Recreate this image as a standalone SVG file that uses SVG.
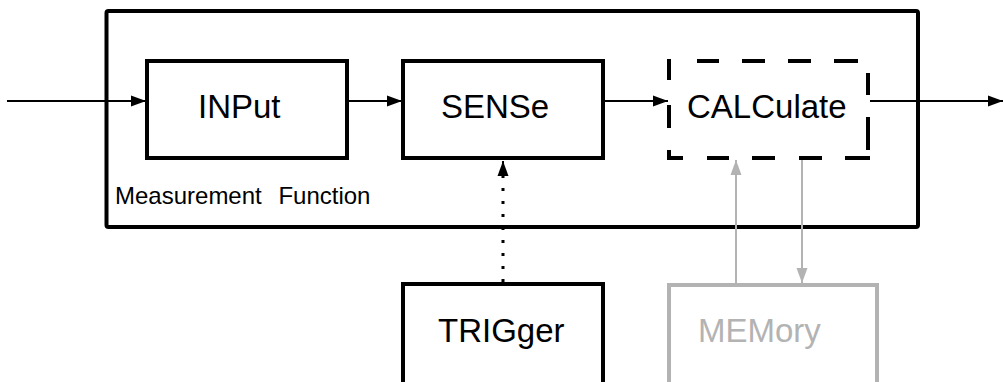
<svg xmlns="http://www.w3.org/2000/svg" width="1003" height="382" viewBox="0 0 1003 382">
  <style>
    .box { fill: none; stroke: #000; stroke-width: 4; }
    .gbox { fill: none; stroke: #b3b3b3; stroke-width: 4; }
    .dash { fill: none; stroke: #000; stroke-width: 4; stroke-linecap: butt; }
    .lbl { font-family: "Liberation Sans", Arial, sans-serif; font-size: 33px; fill: #000; }
    .glbl { font-family: "Liberation Sans", Arial, sans-serif; font-size: 33px; fill: #b3b3b3; }
    .small { font-family: "Liberation Sans", Arial, sans-serif; font-size: 24px; fill: #000; word-spacing: 10px; }
    .wire { fill: none; stroke: #000; stroke-width: 2; }
    .dots { fill: none; stroke: #000; stroke-width: 3; stroke-dasharray: 3 10; }
    .gwire { fill: none; stroke: #b3b3b3; stroke-width: 2; }
  </style>
  <defs>
    <marker id="ah" markerUnits="userSpaceOnUse" markerWidth="15" markerHeight="12" refX="15" refY="6" orient="auto">
      <path d="M0,0.5 L15,6 L0,11.5 z" fill="#000"/>
    </marker>
    <marker id="ahg" markerUnits="userSpaceOnUse" markerWidth="15" markerHeight="12" refX="15" refY="6" orient="auto">
      <path d="M0,0.5 L15,6 L0,11.5 z" fill="#b3b3b3"/>
    </marker>
  </defs>

  <g id="measurement-function">
    <rect class="box" x="106.5" y="11" width="811.5" height="216" rx="2"/>
    <text class="small" x="115" y="204">Measurement Function</text>
  </g>

  <g id="input">
    <rect class="box" x="147" y="61" width="200" height="97"/>
    <text class="lbl" x="198" y="118">INPut</text>
  </g>

  <g id="sense">
    <rect class="box" x="403" y="61" width="200" height="97"/>
    <text class="lbl" x="441" y="118">SENSe</text>
  </g>

  <g id="calculate">
    <path class="dash" d="M697,61 H719 M742,61 H765 M788,61 H811 M834,61 H858
      M868,73 V95 M868,117 V150
      M870,158 H845 M822,158 H799 M775,158 H752 M729,158 H707
      M683,158 H669 V150 M669,128 V105 M669,80 V59"/>
    <text class="lbl" x="687" y="118">CALCulate</text>
  </g>

  <g id="trigger">
    <rect class="box" x="403" y="284" width="200" height="110"/>
    <text class="lbl" x="438" y="342">TRIGger</text>
  </g>

  <g id="memory">
    <rect class="gbox" x="669" y="285" width="208" height="110"/>
    <text class="glbl" x="698" y="342">MEMory</text>
  </g>

  <g id="connectors">
    <line class="wire" x1="7" y1="101" x2="146" y2="101" marker-end="url(#ah)"/>
    <line class="wire" x1="349" y1="101" x2="402" y2="101" marker-end="url(#ah)"/>
    <line class="wire" x1="605" y1="101" x2="668" y2="101" marker-end="url(#ah)"/>
    <line class="wire" x1="870" y1="101" x2="1003" y2="101" marker-end="url(#ah)"/>
    <line class="dots" x1="503" y1="282" x2="503" y2="171"/>
    <line class="wire" x1="503" y1="176" x2="503" y2="161" stroke-width="1" marker-end="url(#ah)"/>
    <line class="gwire" x1="736" y1="283" x2="736" y2="160" marker-end="url(#ahg)"/>
    <line class="gwire" x1="802" y1="160" x2="802" y2="283" marker-end="url(#ahg)"/>
  </g>
</svg>
